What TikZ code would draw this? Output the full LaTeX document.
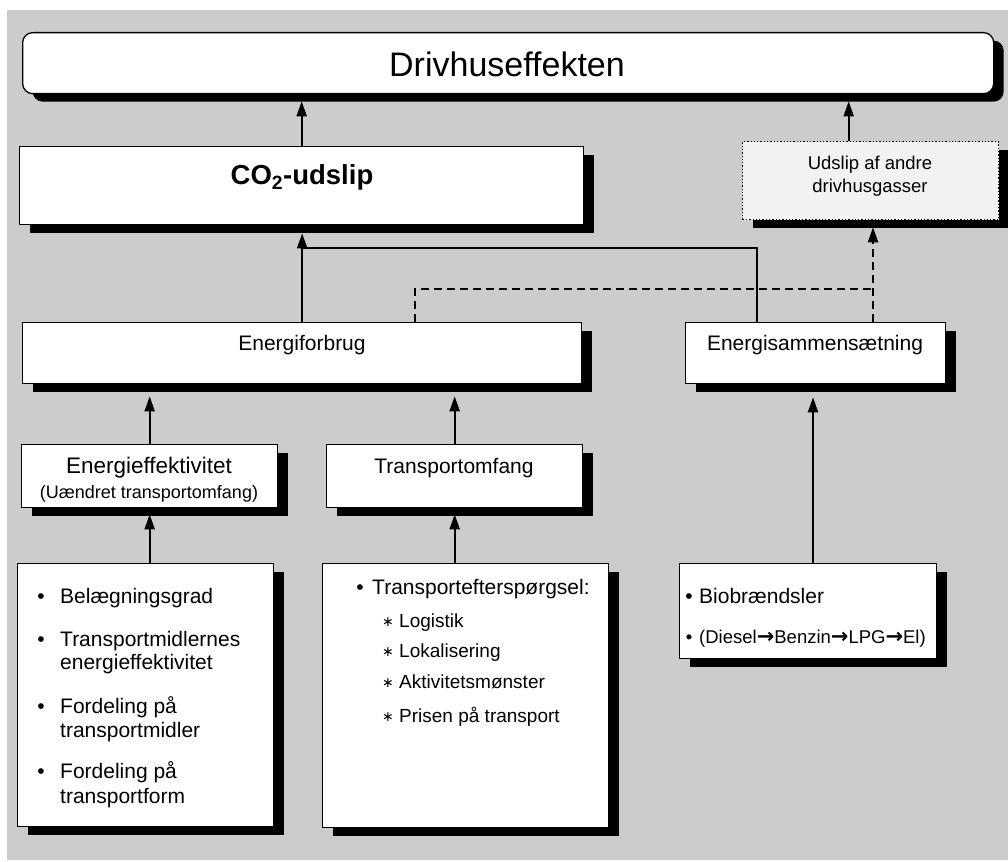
\documentclass[tikz,border=0pt]{standalone}
\usepackage{fontspec}
\setmainfont{Liberation Sans}
\newfontfamily\djvb{DejaVu Sans Bold}
\newfontfamily\djv{DejaVu Sans}
\usetikzlibrary{arrows.meta,shadows}
\definecolor{bg}{HTML}{CCCCCC}
\definecolor{pale}{HTML}{F2F2F2}
\newcommand{\rarr}{{\djvb\fontsize{21}{24}\selectfont\raisebox{-0.5pt}{→}}}
\newcommand{\astr}{{\djv\fontsize{14}{18}\selectfont ∗}}
\begin{document}
\begin{tikzpicture}[x=1pt,y=-1pt,
 box/.style={draw=black, line width=1.3pt, fill=white, inner sep=0pt, anchor=north west,
   drop shadow={shadow xshift=10pt,shadow yshift=-8pt,opacity=1,fill=black}},
 txt/.style={inner sep=0pt, anchor=base, font=\fontsize{21}{25}\selectfont},
 itm/.style={inner sep=0pt, anchor=base west, font=\fontsize{21}{25}\selectfont},
 bul/.style={inner sep=0pt, anchor=base, font=\fontsize{21}{25}\selectfont},
 sub/.style={inner sep=0pt, anchor=base west, font=\fontsize{19}{23}\selectfont},
 arr/.style={line width=2pt, -{Triangle[width=10pt,length=15pt]}},
 ln/.style={line width=2pt},
 dsh/.style={line width=2pt, dash pattern=on 8pt off 5pt}]
\useasboundingbox (0,0) rectangle (1008,861);
\fill[bg] (7,10) rectangle (1008,860);

% boxes
\node[box, rounded corners=10pt, minimum width=971pt, minimum height=61pt] (drv) at (22,32) {};
\node[box, minimum width=564pt, minimum height=78pt] (co2) at (19,146) {};
\node[box, fill=pale, dotted, minimum width=256pt, minimum height=78pt] (oth) at (742,141) {};
\node[box, minimum width=559pt, minimum height=61pt] (ef) at (22,322) {};
\node[box, minimum width=260pt, minimum height=61pt] (es) at (685,322) {};
\node[box, minimum width=256pt, minimum height=63pt] (eeff) at (21,444) {};
\node[box, minimum width=256pt, minimum height=63pt] (tom) at (326,444) {};
\node[box, minimum width=256pt, minimum height=263pt] (bl) at (17,563) {};
\node[box, minimum width=286pt, minimum height=264pt] (bm) at (322,563) {};
\node[box, minimum width=257pt, minimum height=95pt] (br) at (679,563) {};

% texts
\node[txt, font=\fontsize{34}{39}\selectfont] (drvt) at (507,77) {Drivhuseffekten};
\node[txt, font=\fontsize{27.5}{32}\selectfont\bfseries] (co2t) at (302,185) {CO\textsubscript{2}-udslip};
\node[txt, font=\fontsize{18.5}{22}\selectfont] (otht1) at (870,170) {Udslip af andre};
\node[txt, font=\fontsize{18.5}{22}\selectfont] (otht2) at (870,192) {drivhusgasser};
\node[txt] (eft) at (302,350) {Energiforbrug};
\node[txt] (est) at (815,350) {Energisammensætning};
\node[txt, font=\fontsize{22.5}{26}\selectfont] (eefft1) at (149,473) {Energieffektivitet};
\node[txt, font=\fontsize{18}{22}\selectfont] (eefft2) at (149,498) {(Uændret transportomfang)};
\node[txt] (tomt) at (454,473) {Transportomfang};

% left list
\node[bul] (lb1) at (41,603) {•};
\node[itm] (l1) at (60,603) {Belægningsgrad};
\node[bul] (lb2) at (41,646) {•};
\node[itm] (l2a) at (60,646) {Transportmidlernes};
\node[itm] (l2b) at (60,669) {energieffektivitet};
\node[bul] (lb3) at (41,713) {•};
\node[itm] (l3a) at (60,713) {Fordeling på};
\node[itm] (l3b) at (60,737) {transportmidler};
\node[bul] (lb4) at (41,778) {•};
\node[itm] (l4a) at (60,778) {Fordeling på};
\node[itm] (l4b) at (60,803) {transportform};

% middle list
\node[bul] (mb1) at (360,594) {•};
\node[itm] (m1) at (372,594) {Transportefterspørgsel:};
\node[sub, anchor=base] (ms1) at (388,626) {\astr};
\node[sub] (m2) at (399,627) {Logistik};
\node[sub, anchor=base] (ms2) at (388,656) {\astr};
\node[sub] (m3) at (399,657) {Lokalisering};
\node[sub, anchor=base] (ms3) at (388,687) {\astr};
\node[sub] (m4) at (399,688) {Aktivitetsmønster};
\node[sub, anchor=base] (ms4) at (388,721) {\astr};
\node[sub] (m5) at (399,722) {Prisen på transport};

% right list
\node[bul] (rb1) at (689,603) {•};
\node[itm] (r1) at (699,603) {Biobrændsler};
\node[bul, font=\fontsize{18.5}{22}\selectfont] (rb2) at (689,643) {•};
\node[itm, font=\fontsize{18.5}{22}\selectfont] (r2) at (699,643) {(Diesel\rarr Benzin\rarr LPG\rarr El)};

% connectors
\coordinate (j1) at (302,248);
\coordinate (j2) at (415,289);
\coordinate (j3) at (873,289);
\coordinate (ax) at (813,0);
\draw[arr, shorten >=7pt] (co2.north) -- (co2.north |- drv.south);
\draw[arr, shorten >=7pt] ([xshift=-22pt]oth.north) -- ([xshift=-22pt]oth.north |- drv.south);
\draw[arr, shorten >=8pt] (ef.north) -- (ef.north |- co2.south);
\draw[ln] ([xshift=-59pt]es.north) |- (j1);
\draw[dsh] (j2 |- ef.north) -- (j2) -- (j3);
\draw[dsh, -{Triangle[width=10pt,length=15pt]}, shorten >=7pt] (j3 |- es.north) -- (j3 |- oth.south);
\draw[arr, shorten >=12pt] (eeff.north) -- (eeff.north |- ef.south);
\draw[arr, shorten >=12pt] (tom.north) -- (tom.north |- ef.south);
\draw[arr, shorten >=13pt] (br.north -| ax) -- (ax |- es.south);
\draw[arr, shorten >=6pt] (bl.north -| eeff.south) -- (eeff.south);
\draw[arr, shorten >=6pt] (bm.north -| tom.south) -- (tom.south);
\end{tikzpicture}
\end{document}
